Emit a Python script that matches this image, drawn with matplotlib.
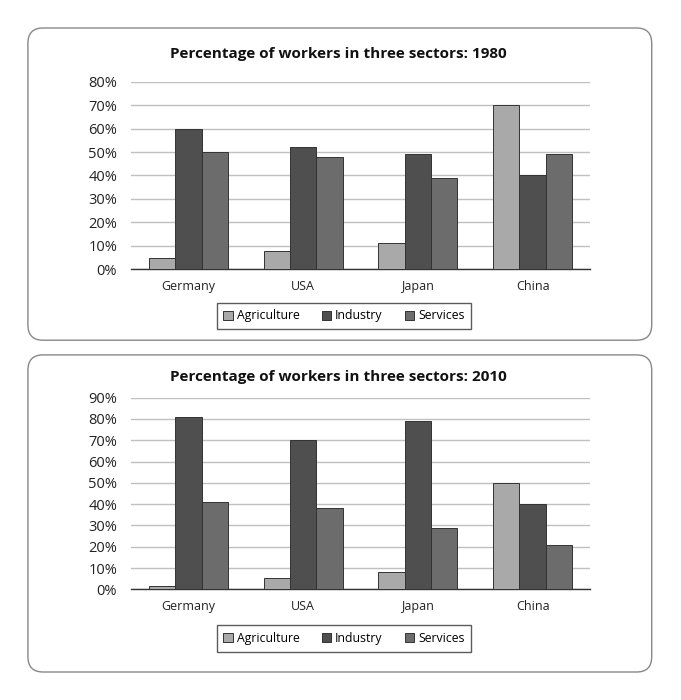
import matplotlib.pyplot as plt
from matplotlib.patches import FancyBboxPatch
import numpy as np

plt.rcParams['font.family'] = ['Open Sans', 'DejaVu Sans']

countries = ['Germany', 'USA', 'Japan', 'China']
sectors = ['Agriculture', 'Industry', 'Services']
colors = ['#a9a9a9', '#4f4f4f', '#6c6c6c']

# 1980
agri_1980 = [5, 8, 11, 70]
ind_1980 = [60, 52, 49, 40]
serv_1980 = [50, 48, 39, 49]

# 2010
agri_2010 = [1.5, 5.5, 8, 50]
ind_2010 = [81, 70, 79, 40]
serv_2010 = [41, 38, 29, 21]

fig = plt.figure(figsize=(6.81, 7), dpi=100)

# rounded panel frames
for y0, h in [(0.514, 0.446), (0.040, 0.453)]:
    fig.patches.append(FancyBboxPatch((0.041, y0), 0.916, h,
                                      boxstyle="round,pad=0,rounding_size=0.022",
                                      transform=fig.transFigure, facecolor='none',
                                      edgecolor='#888888', linewidth=1.0, zorder=-1))


def draw_panel(rect, data, ymax, title, title_y, leg_y):
    ax = fig.add_axes(rect)
    x = np.arange(len(countries))
    w = 0.23
    for i, vals in enumerate(data):
        ax.bar(x + (i - 1) * w, vals, w, color=colors[i], edgecolor='#333333',
               linewidth=0.7, label=sectors[i], zorder=3)
    ax.set_xlim(-0.5, 3.5)
    ax.set_ylim(0, ymax)
    ax.set_yticks(range(0, ymax + 1, 10))
    ax.set_yticklabels([f'{v}%' for v in range(0, ymax + 1, 10)], fontsize=10.5)
    ax.set_xticks(x)
    ax.set_xticklabels(countries, fontsize=9)
    ax.tick_params(axis='both', length=0, colors='#222222')
    ax.tick_params(axis='y', pad=10)
    ax.tick_params(axis='x', pad=8)
    ax.yaxis.grid(True, color='#c0c0c0', linewidth=1, zorder=0)
    ax.set_axisbelow(True)
    for s in ['top', 'right', 'left']:
        ax.spines[s].set_visible(False)
    ax.spines['bottom'].set_color('#333333')
    ax.spines['bottom'].set_linewidth(1)
    ax.set_facecolor('none')
    fig.text(0.497, title_y, title, ha='center', va='center',
             fontsize=11, fontweight='bold', color='#111111')
    leg = fig.legend(*ax.get_legend_handles_labels(), loc='center',
                     bbox_to_anchor=(0.505, leg_y), ncol=3, fontsize=8.8,
                     frameon=True, fancybox=False, edgecolor='#333333',
                     handlelength=0.8, handleheight=0.8, handletextpad=0.3,
                     columnspacing=1.8, borderpad=0.55)
    leg.get_frame().set_linewidth(1.0)
    return ax


draw_panel([0.1924, 0.6153, 0.674, 0.268], [agri_1980, ind_1980, serv_1980], 80,
           'Percentage of workers in three sectors: 1980', 0.923, 0.5486)
draw_panel([0.1924, 0.1581, 0.674, 0.2738], [agri_2010, ind_2010, serv_2010], 90,
           'Percentage of workers in three sectors: 2010', 0.4614, 0.0879)

fig.savefig('out.png', dpi=100, facecolor='white')
